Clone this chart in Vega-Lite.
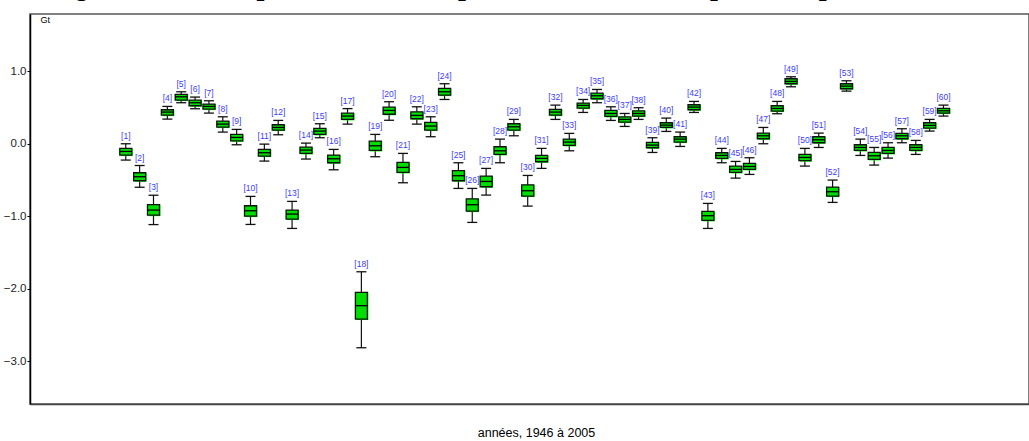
{
  "$schema": "https://vega.github.io/schema/vega-lite/v6.json",
  "autosize": {"type": "none"},
  "width": 999,
  "height": 390,
  "padding": {"left": 30, "top": 14, "right": 0, "bottom": 37},
  "background": "white",
  "title": {
    "text": "Figure 3.22 : Dot plot du terme temporel avec le modèle spatio-temporel de base",
    "font": "Liberation Serif",
    "fontStyle": "italic",
    "fontWeight": "bold",
    "fontSize": 28,
    "color": "#000000",
    "anchor": "middle",
    "frame": "group",
    "dx": -18,
    "dy": 18,
    "baseline": "alphabetic",
    "offset": 9
  },
  "config": {
    "view": {"stroke": "#555555", "strokeWidth": 1.5},
    "axisY": {
      "grid": false,
      "domainColor": "#000000",
      "domainWidth": 1.5,
      "tickColor": "#000000",
      "tickSize": 3,
      "tickWidth": 1,
      "labelFont": "Liberation Sans",
      "labelFontSize": 11.5,
      "labelColor": "#222222",
      "labelPadding": 1,
      "titleFont": "Liberation Sans",
      "titleFontSize": 9,
      "titleFontWeight": "normal",
      "titleColor": "#000000",
      "titleAngle": 0,
      "titleAlign": "left",
      "titleBaseline": "alphabetic",
      "titleX": 10,
      "titleY": 8
    },
    "axisX": {
      "grid": false,
      "domainColor": "#444444",
      "domainWidth": 1.5,
      "ticks": false,
      "labels": false,
      "titleFont": "Liberation Sans",
      "titleFontSize": 12.5,
      "titleFontWeight": "normal",
      "titleColor": "#000000",
      "titleAlign": "center",
      "titleBaseline": "alphabetic",
      "titleX": 506,
      "titleY": 32
    }
  },
  "data": {
    "values": [
      {"i": 1, "lab": "[1]", "lo": -0.225, "q1": -0.156, "med": -0.106, "q3": -0.064, "hi": 0.0},
      {"i": 2, "lab": "[2]", "lo": -0.6, "q1": -0.51, "med": -0.455, "q3": -0.4, "hi": -0.3},
      {"i": 3, "lab": "[3]", "lo": -1.115, "q1": -0.985, "med": -0.915, "q3": -0.84, "hi": -0.71},
      {"i": 4, "lab": "[4]", "lo": 0.34, "q1": 0.395, "med": 0.437, "q3": 0.469, "hi": 0.515},
      {"i": 5, "lab": "[5]", "lo": 0.566, "q1": 0.602, "med": 0.648, "q3": 0.68, "hi": 0.717},
      {"i": 6, "lab": "[6]", "lo": 0.483, "q1": 0.524, "med": 0.566, "q3": 0.602, "hi": 0.644},
      {"i": 7, "lab": "[7]", "lo": 0.423, "q1": 0.478, "med": 0.515, "q3": 0.547, "hi": 0.593},
      {"i": 8, "lab": "[8]", "lo": 0.161, "q1": 0.23, "med": 0.271, "q3": 0.313, "hi": 0.372},
      {"i": 9, "lab": "[9]", "lo": -0.014, "q1": 0.041, "med": 0.087, "q3": 0.129, "hi": 0.198},
      {"i": 10, "lab": "[10]", "lo": -1.113, "q1": -0.998, "med": -0.924, "q3": -0.855, "hi": -0.726},
      {"i": 11, "lab": "[11]", "lo": -0.239, "q1": -0.17, "med": -0.124, "q3": -0.078, "hi": -0.005},
      {"i": 12, "lab": "[12]", "lo": 0.124, "q1": 0.189, "med": 0.225, "q3": 0.262, "hi": 0.322},
      {"i": 13, "lab": "[13]", "lo": -1.168, "q1": -1.039, "med": -0.97, "q3": -0.915, "hi": -0.795},
      {"i": 14, "lab": "[14]", "lo": -0.211, "q1": -0.133, "med": -0.087, "q3": -0.046, "hi": 0.009},
      {"i": 15, "lab": "[15]", "lo": 0.083, "q1": 0.129, "med": 0.175, "q3": 0.211, "hi": 0.276},
      {"i": 16, "lab": "[16]", "lo": -0.359, "q1": -0.262, "med": -0.207, "q3": -0.156, "hi": -0.078},
      {"i": 17, "lab": "[17]", "lo": 0.271, "q1": 0.336, "med": 0.382, "q3": 0.423, "hi": 0.485},
      {"i": 18, "lab": "[18]", "lo": -2.814, "q1": -2.418, "med": -2.234, "q3": -2.05, "hi": -1.766},
      {"i": 19, "lab": "[19]", "lo": -0.179, "q1": -0.092, "med": -0.028, "q3": 0.037, "hi": 0.129},
      {"i": 20, "lab": "[20]", "lo": 0.324, "q1": 0.407, "med": 0.46, "q3": 0.505, "hi": 0.58},
      {"i": 21, "lab": "[21]", "lo": -0.538, "q1": -0.395, "med": -0.326, "q3": -0.257, "hi": -0.133},
      {"i": 22, "lab": "[22]", "lo": 0.271, "q1": 0.345, "med": 0.391, "q3": 0.441, "hi": 0.51},
      {"i": 23, "lab": "[23]", "lo": 0.097, "q1": 0.189, "med": 0.244, "q3": 0.294, "hi": 0.372},
      {"i": 24, "lab": "[24]", "lo": 0.611, "q1": 0.671, "med": 0.717, "q3": 0.763, "hi": 0.828},
      {"i": 25, "lab": "[25]", "lo": -0.616, "q1": -0.51, "med": -0.441, "q3": -0.372, "hi": -0.262},
      {"i": 26, "lab": "[26]", "lo": -1.085, "q1": -0.929, "med": -0.841, "q3": -0.759, "hi": -0.616},
      {"i": 27, "lab": "[27]", "lo": -0.708, "q1": -0.593, "med": -0.52, "q3": -0.446, "hi": -0.34},
      {"i": 28, "lab": "[28]", "lo": -0.262, "q1": -0.147, "med": -0.097, "q3": -0.041, "hi": 0.064},
      {"i": 29, "lab": "[29]", "lo": 0.11, "q1": 0.189, "med": 0.234, "q3": 0.276, "hi": 0.336},
      {"i": 30, "lab": "[30]", "lo": -0.86, "q1": -0.722, "med": -0.648, "q3": -0.566, "hi": -0.437},
      {"i": 31, "lab": "[31]", "lo": -0.34, "q1": -0.248, "med": -0.202, "q3": -0.161, "hi": -0.064},
      {"i": 32, "lab": "[32]", "lo": 0.336, "q1": 0.395, "med": 0.437, "q3": 0.474, "hi": 0.533},
      {"i": 33, "lab": "[33]", "lo": -0.097, "q1": -0.023, "med": 0.023, "q3": 0.064, "hi": 0.143},
      {"i": 34, "lab": "[34]", "lo": 0.432, "q1": 0.492, "med": 0.529, "q3": 0.561, "hi": 0.611},
      {"i": 35, "lab": "[35]", "lo": 0.566, "q1": 0.621, "med": 0.662, "q3": 0.699, "hi": 0.749},
      {"i": 36, "lab": "[36]", "lo": 0.322, "q1": 0.377, "med": 0.418, "q3": 0.46, "hi": 0.51},
      {"i": 37, "lab": "[37]", "lo": 0.239, "q1": 0.299, "med": 0.336, "q3": 0.372, "hi": 0.418},
      {"i": 38, "lab": "[38]", "lo": 0.336, "q1": 0.382, "med": 0.418, "q3": 0.455, "hi": 0.497},
      {"i": 39, "lab": "[39]", "lo": -0.12, "q1": -0.055, "med": -0.018, "q3": 0.018, "hi": 0.083},
      {"i": 40, "lab": "[40]", "lo": 0.17, "q1": 0.225, "med": 0.257, "q3": 0.29, "hi": 0.354},
      {"i": 41, "lab": "[41]", "lo": -0.037, "q1": 0.023, "med": 0.064, "q3": 0.097, "hi": 0.161},
      {"i": 42, "lab": "[42]", "lo": 0.432, "q1": 0.469, "med": 0.506, "q3": 0.538, "hi": 0.584},
      {"i": 43, "lab": "[43]", "lo": -1.168, "q1": -1.057, "med": -0.993, "q3": -0.933, "hi": -0.823},
      {"i": 44, "lab": "[44]", "lo": -0.262, "q1": -0.202, "med": -0.161, "q3": -0.124, "hi": -0.064},
      {"i": 45, "lab": "[45]", "lo": -0.474, "q1": -0.395, "med": -0.354, "q3": -0.308, "hi": -0.244},
      {"i": 46, "lab": "[46]", "lo": -0.423, "q1": -0.354, "med": -0.313, "q3": -0.271, "hi": -0.193},
      {"i": 47, "lab": "[47]", "lo": 0.0, "q1": 0.069, "med": 0.11, "q3": 0.147, "hi": 0.225},
      {"i": 48, "lab": "[48]", "lo": 0.414, "q1": 0.451, "med": 0.487, "q3": 0.524, "hi": 0.584},
      {"i": 49, "lab": "[49]", "lo": 0.786, "q1": 0.828, "med": 0.86, "q3": 0.897, "hi": 0.924},
      {"i": 50, "lab": "[50]", "lo": -0.308, "q1": -0.234, "med": -0.189, "q3": -0.147, "hi": -0.064},
      {"i": 51, "lab": "[51]", "lo": -0.051, "q1": 0.014, "med": 0.055, "q3": 0.097, "hi": 0.147},
      {"i": 52, "lab": "[52]", "lo": -0.809, "q1": -0.722, "med": -0.662, "q3": -0.598, "hi": -0.501},
      {"i": 53, "lab": "[53]", "lo": 0.726, "q1": 0.759, "med": 0.795, "q3": 0.828, "hi": 0.869},
      {"i": 54, "lab": "[54]", "lo": -0.161, "q1": -0.092, "med": -0.051, "q3": -0.014, "hi": 0.064},
      {"i": 55, "lab": "[55]", "lo": -0.294, "q1": -0.216, "med": -0.166, "q3": -0.12, "hi": -0.051},
      {"i": 56, "lab": "[56]", "lo": -0.198, "q1": -0.133, "med": -0.092, "q3": -0.051, "hi": 0.014},
      {"i": 57, "lab": "[57]", "lo": 0.014, "q1": 0.069, "med": 0.11, "q3": 0.143, "hi": 0.207},
      {"i": 58, "lab": "[58]", "lo": -0.147, "q1": -0.092, "med": -0.051, "q3": -0.014, "hi": 0.046},
      {"i": 59, "lab": "[59]", "lo": 0.175, "q1": 0.216, "med": 0.253, "q3": 0.29, "hi": 0.336},
      {"i": 60, "lab": "[60]", "lo": 0.382, "q1": 0.423, "med": 0.455, "q3": 0.487, "hi": 0.533}
    ]
  },
  "encoding": {
    "x": {
      "field": "i",
      "type": "quantitative",
      "scale": {"domain": [-5.55, 65.81], "nice": false, "zero": false},
      "title": "années, 1946 à 2005"
    }
  },
  "layer": [
    {
      "data": {"values": [{"k": 0}]},
      "mark": {"type": "rule", "color": "#4d4d4d", "strokeWidth": 1.5},
      "encoding": {
        "y": {
          "datum": 0,
          "type": "quantitative",
          "scale": {"domain": [-3.59, 1.79], "nice": false, "zero": false},
          "axis": {"values": [1, 0, -1, -2, -3], "format": ".1f"},
          "title": "Gt"
        },
        "x": {"datum": 0.45, "type": "quantitative"},
        "x2": {"datum": 60.5}
      }
    },
    {
      "mark": {"type": "rule", "color": "#111111", "strokeWidth": 1.2},
      "encoding": {
        "y": {"field": "lo", "type": "quantitative", "title": "Gt"},
        "y2": {"field": "hi"}
      }
    },
    {
      "mark": {"type": "tick", "orient": "horizontal", "color": "#111111", "size": 10, "thickness": 1.3, "opacity": 1},
      "encoding": {"y": {"field": "lo", "type": "quantitative", "title": "Gt"}}
    },
    {
      "mark": {"type": "tick", "orient": "horizontal", "color": "#111111", "size": 10, "thickness": 1.3, "opacity": 1},
      "encoding": {"y": {"field": "hi", "type": "quantitative", "title": "Gt"}}
    },
    {
      "mark": {"type": "bar", "size": 12, "fill": "#00ff00", "xOffset": 1, "yOffset": 1, "opacity": 1},
      "encoding": {
        "y": {"field": "q1", "type": "quantitative", "title": "Gt"},
        "y2": {"field": "q3"}
      }
    },
    {
      "mark": {"type": "bar", "size": 12, "fill": "#00dd00", "stroke": "#111111", "strokeWidth": 1.3, "opacity": 1},
      "encoding": {
        "y": {"field": "q1", "type": "quantitative", "title": "Gt"},
        "y2": {"field": "q3"}
      }
    },
    {
      "mark": {"type": "tick", "orient": "horizontal", "color": "#000000", "size": 12, "thickness": 1.3, "opacity": 1},
      "encoding": {"y": {"field": "med", "type": "quantitative", "title": "Gt"}}
    },
    {
      "mark": {"type": "text", "font": "Liberation Sans", "fontSize": 8.5, "color": "#3b3bff", "baseline": "alphabetic", "align": "center", "dy": -5},
      "encoding": {
        "y": {"field": "hi", "type": "quantitative", "title": "Gt"},
        "text": {"field": "lab"}
      }
    }
  ]
}
